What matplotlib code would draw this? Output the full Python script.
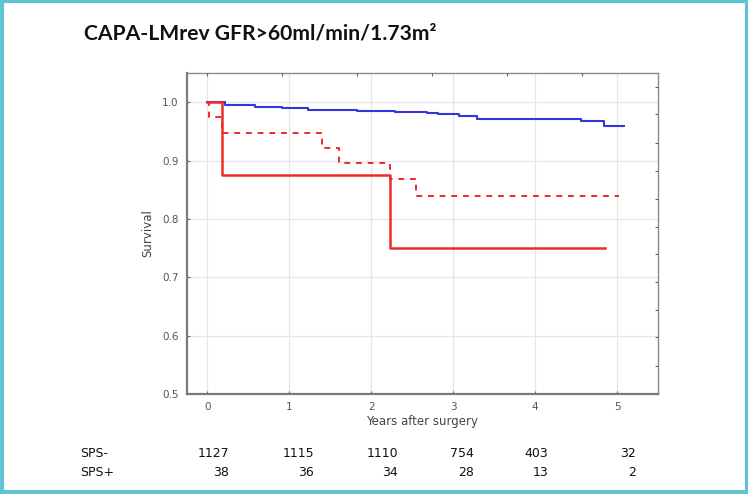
import matplotlib.pyplot as plt
from matplotlib.patches import Rectangle

# Kaplan-Meier step data
neg_t = [0, 0.21, 0.585, 0.91, 1.23, 1.83, 2.29, 2.68, 2.82, 3.07, 3.29, 4.56, 4.84, 5.09]
neg_s = [1.0, 0.996, 0.992, 0.990, 0.987, 0.985, 0.983, 0.982, 0.980, 0.977, 0.972, 0.968, 0.959, 0.959]

pos_t = [0, 0.18, 2.23, 4.85]
pos_s = [1.0, 0.875, 0.75, 0.75]

dash_t = [0, 0.02, 0.18, 1.40, 1.61, 2.23, 2.55, 5.02]
dash_s = [1.0, 0.974, 0.947, 0.921, 0.895, 0.868, 0.840, 0.840]

risk_groups = ["SPS-", "SPS+"]
risk_neg = [1127, 1115, 1110, 754, 403, 32]
risk_pos = [38, 36, 34, 28, 13, 2]
risk_x = [229, 314, 398, 474, 548, 636]  # right edge of each column, pixels

xticks = [0, 1, 2, 3, 4, 5]
yticks = [0.5, 0.6, 0.7, 0.8, 0.9, 1.0]

W, H = 748, 494
fig = plt.figure(figsize=(W / 100, H / 100), dpi=100)

ax = fig.add_axes([187 / W, 1 - 394 / H, (658 - 187) / W, (394 - 73) / H])
ax.step(neg_t, neg_s, where="post", color="#3535e0", lw=1.5)
ax.step(pos_t, pos_s, where="post", color="#ee2a2a", lw=1.8)
ax.step(dash_t, dash_s, where="post", color="#ee2a2a", lw=1.4, linestyle=(0, (3, 3)))

ax.set_xlim(-0.25, 5.5)
ax.set_ylim(0.5, 1.05)
ax.set_xticks(xticks)
ax.set_yticks(yticks)
ax.set_yticklabels([f"{v:.1f}" for v in yticks])
ax.grid(True, color="#e6e6e6", lw=0.9)
ax.set_axisbelow(True)
ax.tick_params(direction="in", length=2, colors="#666666", labelsize=7.5, labelcolor="#555555", pad=6)
for side in ["left", "bottom"]:
    ax.spines[side].set_color("#7a7a7a")
    ax.spines[side].set_linewidth(1.6)
for side in ["top", "right"]:
    ax.spines[side].set_color("#8a8a8a")
    ax.spines[side].set_linewidth(1.0)
ax.set_xlabel("Years after surgery", fontsize=8.5, color="#444444", labelpad=2)
ax.set_ylabel("Survival", fontsize=8.5, color="#444444", labelpad=6)

# extra tick marks on top and right, as in the original software
tx = ax.twiny()
tx.set_xlim(ax.get_xlim())
tx.set_xticks([-0.01, 0.915, 1.83, 2.74, 3.66, 4.57])
tx.set_xticklabels([])
tx.tick_params(direction="in", length=2, colors="#666666")
ty = ax.twinx()
ty.set_ylim(ax.get_ylim())
ty.set_yticks([1.026, 0.979, 0.930, 0.882, 0.834, 0.786, 0.740, 0.692, 0.644, 0.597, 0.548])
ty.set_yticklabels([])
ty.tick_params(direction="in", length=2, colors="#666666")
for a in (tx, ty):
    for s in a.spines.values():
        s.set_visible(False)

fig.text(84 / W, 1 - 33 / H, "CAPA-LMrev GFR>60ml/min/1.73m²", fontsize=15.2,
         fontweight="bold", family=["Lato", "DejaVu Sans"], va="center", ha="left", color="#111111")

# numbers at risk
for row, (name, vals) in enumerate(zip(risk_groups, [risk_neg, risk_pos])):
    y = 1 - (453 + row * 19) / H
    fig.text(80 / W, y, name, fontsize=9, va="center", ha="left", color="#111111")
    for xr, v in zip(risk_x, vals):
        fig.text(xr / W, y, str(v), fontsize=9, va="center", ha="right", color="#111111")

# cyan frame around the picture
fig.patches.append(Rectangle((1.5 / W, 2 / H), (W - 3) / W, (H - 3.5) / H, transform=fig.transFigure,
                             fill=False, edgecolor="#62c4d3", lw=3))

fig.savefig("out.png", dpi=100)
